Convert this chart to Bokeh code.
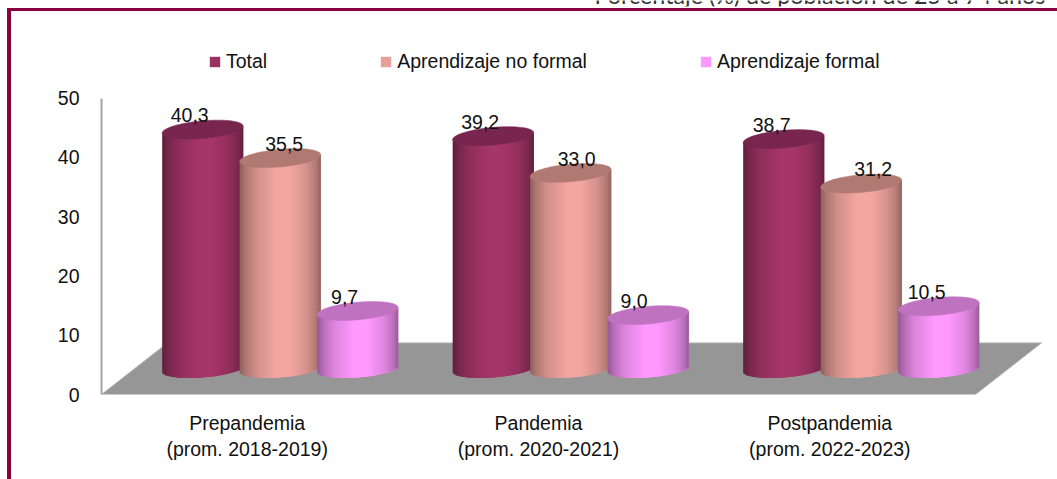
import numpy as np
from bokeh.plotting import figure
from bokeh.models import FixedTicker, Legend, LegendItem, Label, BoxAnnotation, InlineStyleSheet
from bokeh.embed import file_html
from bokeh.resources import INLINE
from bokeh.core.properties import value

categories = ["Prepandemia\n(prom. 2018-2019)", "Pandemia\n(prom. 2020-2021)", "Postpandemia\n(prom. 2022-2023)"]
series = ["Total", "Aprendizaje no formal", "Aprendizaje formal"]
total = [40.3, 39.2, 38.7]
no_formal = [35.5, 33.0, 31.2]
formal = [9.7, 9.0, 10.5]
y_ticks = [0, 10, 20, 30, 40, 50]
title_text = "Porcentaje (%) de población de 25 a 74 años"

W, H = 1057, 479
FONT = "Liberation Sans"
FS = "19.5px"
L, B = 101, 85.5           # plot frame offsets
PX_X = 291.33              # pixels per category
PX_Y = 5.92                # pixels per percentage point
GROUP = 290.5 / PX_X       # cylinder group step
FRAME_H = H - B

p = figure(width=W, height=H, output_backend="svg", toolbar_location=None,
           x_range=(0, (W - L) / PX_X), y_range=(0, FRAME_H / PX_Y),
           min_border_left=L, min_border_right=0, min_border_top=0, min_border_bottom=int(B),
           background_fill_color="white", border_fill_color="white", outline_line_color=None,
           margin=(0, 0, 0, 0))
p.grid.visible = False

# page frame: open on the right, as in the reference
p.stylesheets = [InlineStyleSheet(css=":host::after{content:'';position:absolute;left:7px;top:8px;right:0;bottom:0;"
                                      "border-left:4px solid #8b0040;border-top:3.5px solid #8b0040;"
                                      "pointer-events:none;z-index:10;}")]

p.yaxis.ticker = FixedTicker(ticks=y_ticks)
p.yaxis.bounds = (0, 50)
p.yaxis.axis_line_color = "#a6a6a6"
p.yaxis.axis_line_width = 2
p.yaxis.major_tick_line_color = None
p.yaxis.minor_tick_line_color = None
p.yaxis.major_label_text_font = FONT
p.yaxis.major_label_text_font_size = FS
p.yaxis.major_label_text_color = "#111111"
p.yaxis.major_label_standoff = 16

p.xaxis.ticker = FixedTicker(ticks=[0.5, 1.5, 2.5])
p.xaxis.major_label_overrides = {0.5: categories[0], 1.5: categories[1], 2.5: categories[2]}
p.xaxis.axis_line_color = None
p.xaxis.major_tick_line_color = None
p.xaxis.minor_tick_line_color = None
p.xaxis.major_label_text_font = FONT
p.xaxis.major_label_text_font_size = FS
p.xaxis.major_label_text_color = "#111111"
p.xaxis.major_label_standoff = 11

# floor
DX = 66 / PX_X
DY = 51.5 / PX_Y
p.patch([0, 3, 3 + DX, DX], [0, 0, DY, DY], fill_color="#969696", line_color="#b4b4b4", line_width=1)

# cylinders
CYL_W = 81 / PX_X
STEP = 77.5 / PX_X
A = CYL_W / 2
B_E = 8.8 / PX_Y       # ellipse half height (sheared)
K = 3.5 / PX_Y         # shear: right side higher
BASE = DY / 2 - 0.3 + 2 / PX_Y
stops_u = [-1.0, -0.85, -0.6, -0.1, 0.25, 0.65, 0.88, 1.0]
stops_f = [0.58, 0.72, 0.86, 1.0, 1.0, 0.88, 0.74, 0.60]
colors = [((166, 54, 106), "#782650", "#9a3363"),
          ((243, 166, 160), "#b07a72", "#e5a097"),
          ((255, 153, 255), "#bf72c0", "#ff99ff")]
values = [total, no_formal, formal]
offs = [[-13, 4, -13], [-13, 6, -14], [-12, 12, -12]]
n = 54
edges = np.linspace(-1, 1, n + 1)
mids = (edges[:-1] + edges[1:]) / 2
t = np.linspace(0, 2 * np.pi, 80)
for g in range(3):
    cx0 = 0.5 + g * GROUP + DX / 2
    for s in range(3):
        v = values[s][g]
        rgb = colors[s][0]
        top_col = colors[s][1]
        cx = cx0 + (s - 1) * STEP
        fac = np.interp(mids, stops_u, stops_f)
        cols = ["#%02x%02x%02x" % tuple(int(c * f) for c in rgb) for f in fac]
        left = cx + edges[:-1] * A
        right = cx + np.minimum(edges[:-1] + 3 * (edges[1] - edges[0]), 1) * A
        bot = BASE + K * mids - B_E * np.sqrt(np.clip(1 - mids ** 2, 0, 1))
        top = BASE + v + K * mids
        p.quad(left=left, right=right, bottom=bot, top=top, fill_color=cols, line_color=None)
        p.patch(cx + A * np.cos(t), BASE + v + K * np.cos(t) + B_E * np.sin(t),
                fill_color=top_col, line_color=top_col, line_width=0.5)

for g in range(3):
    cx0 = 0.5 + g * GROUP + DX / 2
    for s in range(3):
        v = values[s][g]
        cx = cx0 + (s - 1) * STEP + offs[g][s] / PX_X
        p.text([cx], [BASE + v + 2.4], text=[f"{v:.1f}".replace(".", ",")],
               text_font=value(FONT), text_font_size=FS, text_color="#111111",
               text_align="center", text_baseline="middle")

items = []
for s, name in enumerate(series):
    r = p.quad(left=[-2], right=[-1], bottom=[-2], top=[-1], fill_color=colors[s][2], line_color=None)
    items.append(LegendItem(label=name, renderers=[r]))
leg = Legend(items=items, orientation="horizontal", location=(107, 321), spacing=112,
             label_text_font=FONT, label_text_font_size=FS, label_text_color="#111111",
             glyph_width=13, glyph_height=13, label_standoff=5, padding=0, margin=0,
             border_line_color=None, background_fill_alpha=0)
p.add_layout(leg, "center")

# screen units here count from the plot frame's bottom-left corner
def fx(x):
    return x - L
def fy(y):
    return FRAME_H - y

p.add_layout(Label(x=fx(594), y=fy(-6.5), x_units="screen", y_units="screen", text=title_text,
                   text_font="Lato", text_font_size="23.3px", text_color="#333333",
                   text_baseline="alphabetic"))
p.add_layout(BoxAnnotation(left=fx(590), right=fx(W), top=fy(5.5), bottom=fy(8),
                           left_units="screen", right_units="screen", top_units="screen", bottom_units="screen",
                           fill_color="white", fill_alpha=1, line_color=None))

open("out.html", "w").write(file_html(p, INLINE))
